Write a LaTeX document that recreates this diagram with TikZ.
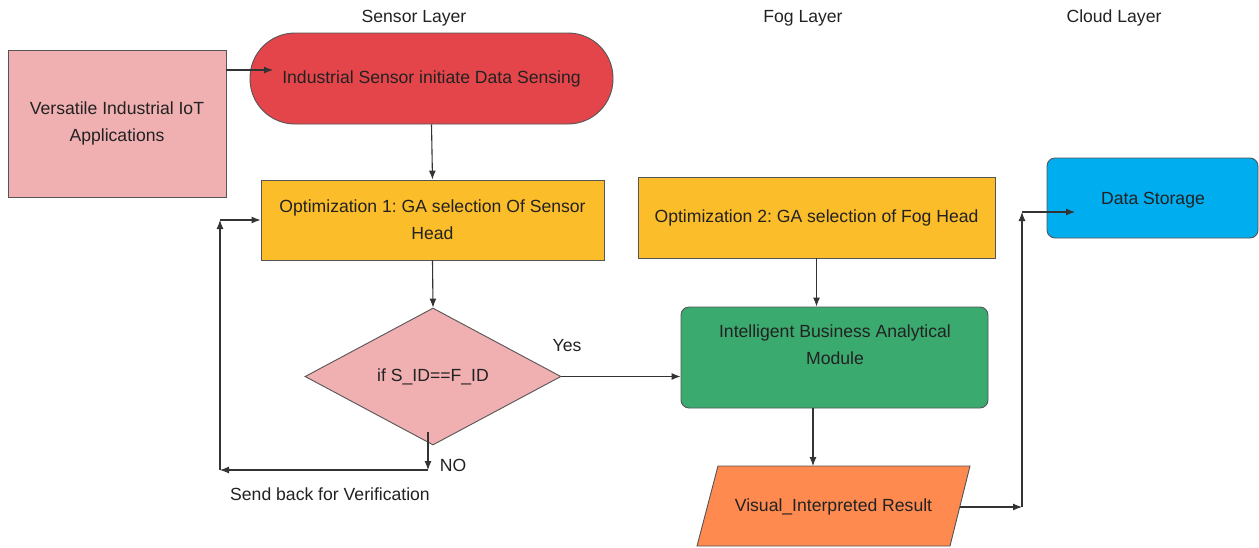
\documentclass[tikz,border=0pt]{standalone}
\usepackage{fontspec}
\setmainfont{Liberation Sans}
\usetikzlibrary{arrows.meta,shapes.geometric}
\definecolor{cpink}{HTML}{F0AFB1}
\definecolor{cred}{HTML}{E4454A}
\definecolor{cyel}{HTML}{FBBD29}
\definecolor{cgreen}{HTML}{3AAA6F}
\definecolor{corange}{HTML}{FE8A4F}
\definecolor{cblue}{HTML}{00ADEF}
\definecolor{cline}{HTML}{333333}
\definecolor{cedge}{HTML}{555555}
\definecolor{ctext}{HTML}{222222}
\frenchspacing
\tikzset{
  every node/.style={text=ctext, font=\fontsize{17.6}{27}\selectfont},
  boxbase/.style={draw=cedge, line width=0.9pt, inner sep=0pt, align=center},
  arr/.style={draw=cline, line width=1.1pt, -{Latex[length=9pt,width=7pt]}},
  lbl/.style={inner sep=0pt}
}
\begin{document}
\begin{tikzpicture}[x=1pt,y=-1pt]
\useasboundingbox (0,0) rectangle (1259,547);
% layer titles
\node[lbl] (tsensor) at (414,18) {Sensor Layer};
\node[lbl] (tfog) at (803,18) {Fog Layer};
\node[lbl] (tcloud) at (1114,18) {Cloud Layer};
% nodes
\node[boxbase, fill=cpink, minimum width=218pt, minimum height=147pt] (vers) at (117,123.5) {Versatile Industrial IoT\\Applications};
\node[boxbase, fill=cred, rounded corners=45pt, minimum width=363pt, minimum height=91pt] (sense) at (431.5,78.5) {Industrial Sensor initiate Data Sensing};
\node[boxbase, fill=cyel, minimum width=343pt, minimum height=80pt] (opt1) at (432.5,220) {Optimization 1: GA selection Of Sensor\\Head};
\node[boxbase, fill=cpink, diamond, minimum width=256pt, minimum height=137pt] (dec) at (433,376.5) {if S\_ID==F\_ID};
\node[boxbase, fill=cyel, minimum width=357pt, minimum height=81pt] (opt2) at (816.5,217.5) {Optimization 2: GA selection of Fog Head};
\node[boxbase, fill=cgreen, rounded corners=8pt, minimum width=307pt, minimum height=101pt] (ibam) at (834.5,357.5) {};
\node[lbl, align=center] (ibamtext) at (835,345) {Intelligent Business Analytical\\Module};
% parallelogram (data output)
\draw[draw=cedge, line width=0.9pt, fill=corange] (718,466) -- (970,466) -- (950,546) -- (697,546) -- cycle;
\node[lbl, minimum width=252pt, minimum height=80pt] (vis) at (833.5,507) {Visual\_Interpreted Result};
\node[boxbase, fill=cblue, rounded corners=8pt, minimum width=211pt, minimum height=80pt] (ds) at (1152.5,198) {};
\node[lbl] (dstext) at (1153,200) {Data Storage};
% labels
\node[lbl] (yes) at (567,346) {Yes};
\node[lbl] (no) at (453,465) {NO};
\node[lbl] (send) at (330,494) {Send back for Verification};
% coordinates
\coordinate (a1) at (273,70);
\coordinate (n1) at (428,432);
\coordinate (n2) at (428,470);
\coordinate (n3) at (220,470);
\coordinate (n4) at (220,220);
\coordinate (v1) at (813,466);
\coordinate (r1) at (960,507);
\coordinate (r2) at (1022,507);
\coordinate (r3) at (1022,212);
\coordinate (r4) at (1075,212);
% connectors
\draw[arr] (vers.east |- a1) -- (a1);
\draw[arr] (sense.south) -- (opt1.north);
\draw[arr] (opt1.south) -- (dec.north);
\draw[arr] (dec.east) -- (dec.east -| ibam.west);
\draw[arr] (opt2.south) -- (opt2.south |- ibam.north);
\draw[arr] (ibam.south -| v1) -- (v1);
\draw[arr] (n1) -- (n2);
\draw[arr] (n2) -- (n3);
\draw[arr] (n3) -- (n4);
\draw[arr] (n4) -- (opt1.west |- n4);
\draw[arr] (r1) -- (r2);
\draw[arr] (r2) -- (r3);
\draw[arr] (r3) -- (r4);
\end{tikzpicture}
\end{document}
